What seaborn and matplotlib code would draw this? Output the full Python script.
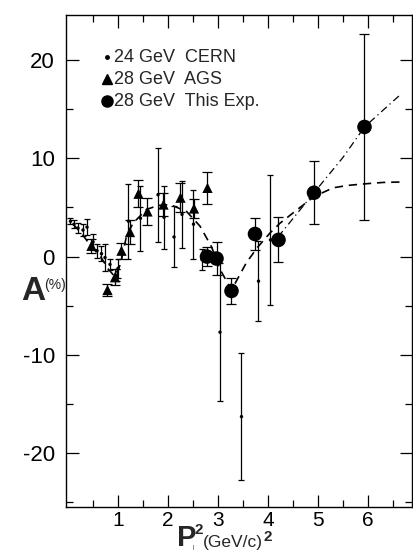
import matplotlib
matplotlib.use("Agg")
import matplotlib.pyplot as plt
import seaborn as sns
import numpy as np
import pandas as pd

# ---- data ----
cern_x = [0.05, 0.12, 0.20, 0.30, 0.38, 0.50, 0.58, 0.67, 0.74, 0.84, 0.98, 1.00,
          1.21, 1.45, 1.80, 1.92, 2.12, 2.28, 2.51, 2.68, 3.04, 3.47, 3.81, 4.05]
cern_y = [3.6, 3.3, 2.9, 2.7, 3.0, 1.5, 0.6, 0.3, -0.1, -0.8, -1.9, -1.2,
          3.6, 3.9, 6.3, 4.0, 2.0, 4.3, 3.3, -0.3, -7.7, -16.3, -2.5, 1.7]
cern_err = [0.3, 0.4, 0.5, 0.6, 0.8, 0.8, 0.7, 0.8, 1.4, 0.6, 0.6, 1.0,
            3.8, 3.3, 4.8, 3.2, 3.1, 3.4, 3.5, 1.1, 7.0, 6.5, 4.1, 6.6]

ags_x = [0.47, 0.79, 0.94, 1.07, 1.24, 1.41, 1.59, 1.91, 2.25, 2.52, 2.79]
ags_y = [1.1, -3.4, -2.1, 0.6, 2.5, 6.4, 4.6, 5.3, 6.0, 4.9, 7.0]
ags_err = [0.7, 0.6, 0.8, 0.8, 1.2, 1.4, 1.4, 1.2, 1.5, 1.0, 1.6]

exp_x = [2.78, 2.97, 3.27, 3.74, 4.21, 4.92, 5.93]
exp_y = [0.0, -0.2, -3.5, 2.3, 1.7, 6.5, 13.2]
exp_err = [1.0, 1.7, 1.3, 1.6, 2.3, 3.2, 9.5]

fit_x = [0.10, 0.25, 0.44, 0.65, 0.81, 0.93, 1.05, 1.17, 1.30, 1.57, 1.80, 2.04,
         2.37, 2.64, 2.87, 3.04, 3.27, 3.57, 3.80, 4.04, 4.24, 4.64, 4.92, 5.30,
         5.60, 5.92, 6.30, 6.70]
fit_y = [3.3, 2.5, 1.2, 0.0, -1.3, -2.0, -0.8, 2.1, 3.4, 4.8, 5.2, 5.3,
         4.6, 3.1, 1.0, -1.3, -3.4, -0.6, 1.0, 2.4, 3.4, 5.0, 6.1, 7.0,
         7.25, 7.4, 7.55, 7.6]

lin_x = [4.20, 4.92, 5.50, 5.93, 6.30, 6.65]
lin_y = [2.0, 6.5, 10.1, 13.2, 14.9, 16.5]

legend_labels = ["24 GeV  CERN", "28 GeV  AGS", "28 GeV  This Exp."]

# ---- figure ----
sns.set_theme(style="ticks")
plt.rcParams['font.family'] = ['Liberation Sans', 'DejaVu Sans']
plt.rcParams['axes.unicode_minus'] = False

W, H = 414, 552
fig = plt.figure(figsize=(W / 100, H / 100), dpi=100)
ax = fig.add_axes([66 / W, 1 - 507 / H, (412 - 66) / W, (507 - 15) / H])

# curves
sns.lineplot(x=fit_x, y=fit_y, ax=ax, color="black", lw=1.2, sort=False,
             linestyle=(0, (5, 3.5)))
sns.lineplot(x=lin_x, y=lin_y, ax=ax, color="black", lw=0.9, sort=False,
             linestyle=(0, (6, 3, 1, 3)))

# error bars
ax.errorbar(cern_x, cern_y, yerr=cern_err, fmt="none", ecolor="black",
            elinewidth=0.9, capsize=2, capthick=0.9)
ax.errorbar(ags_x, ags_y, yerr=ags_err, fmt="none", ecolor="black",
            elinewidth=0.9, capsize=3.5, capthick=0.9)
ax.errorbar(exp_x, exp_y, yerr=exp_err, fmt="none", ecolor="black",
            elinewidth=0.9, capsize=3.5, capthick=0.9)

# markers
sns.scatterplot(x=cern_x, y=cern_y, ax=ax, marker="o", s=6, color="black",
                edgecolor="none", zorder=5)
sns.scatterplot(x=ags_x, y=ags_y, ax=ax, marker="^", s=55, color="black",
                edgecolor="none", zorder=5)
sns.scatterplot(x=exp_x, y=exp_y, ax=ax, marker="o", s=110, color="black",
                edgecolor="none", zorder=5)

ax.set_xlim(-0.04, 6.88)
ax.set_ylim(-25.5, 24.6)
ax.set_xticks([1, 2, 3, 4, 5, 6])
ax.set_xticks(np.arange(0.5, 6.9, 0.5), minor=True)
ax.set_yticks([-20, -10, 0, 10, 20])
ax.set_yticks([-25, -15, -5, 5, 15], minor=True)
ax.tick_params(axis="both", which="both", direction="in", top=True, right=True,
               labelsize=16, width=0.9, colors="black")
ax.tick_params(axis="x", labelsize=15, pad=3)
ax.tick_params(axis="both", which="major", length=9)
ax.tick_params(axis="both", which="minor", length=5)
ax.tick_params(axis="y", pad=8)
for s in ax.spines.values():
    s.set_linewidth(1.0)
    s.set_color("black")
ax.set_xlabel("")
ax.set_ylabel("")
if ax.get_legend() is not None:
    ax.get_legend().remove()

# legend (manual, inside axes)
leg_y = [57, 79, 101]
leg_mk = [("o", 2.5), ("^", 6.5), ("o", 8)]
for ly, (m, ms), lab in zip(leg_y, leg_mk, legend_labels):
    fy = 1 - ly / H
    fig.lines.append(plt.Line2D([107 / W], [fy], marker=m, markersize=ms,
                                color="black", linestyle="none",
                                transform=fig.transFigure))
    fig.text(114 / W, fy, lab, fontsize=13, va="center", ha="left")

# axis labels
fig.text(21 / W, 1 - 291 / H, "A", fontsize=24, fontweight="bold",
         va="center", ha="left")
fig.text(44 / W, 1 - 285 / H, "(%)", fontsize=10, va="center", ha="left")

fig.text(177 / W, 1 - 546 / H, "P", fontsize=21, fontweight="bold",
         va="baseline", ha="left")
fig.text(195 / W, 1 - 530 / H, "2", fontsize=11, fontweight="bold",
         va="center", ha="left")
fig.text(193 / W, 1 - 547 / H, "|", fontsize=4, va="center", ha="left")
fig.text(203 / W, 1 - 547 / H, "(GeV/c)", fontsize=12.5, va="baseline", ha="left")
fig.text(263 / W, 1 - 537 / H, "2", fontsize=11, fontweight="bold",
         va="center", ha="left")

fig.savefig("out.png", dpi=100, facecolor="white")
